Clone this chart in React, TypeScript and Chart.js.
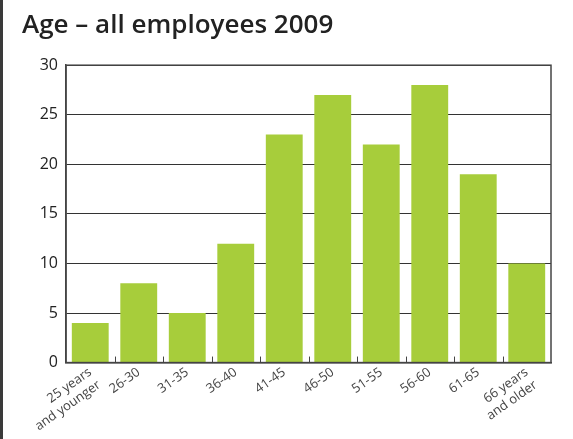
import React, { useEffect, useRef } from "react";
import { Chart, registerables } from "chart.js";

Chart.register(...registerables);

const categories: (string | string[])[] = [
  ["25 years", "and younger"],
  "26-30",
  "31-35",
  "36-40",
  "41-45",
  "46-50",
  "51-55",
  "56-60",
  "61-65",
  ["66 years", "and older"],
];
const employees = [4, 8, 5, 12, 23, 27, 22, 28, 19, 10];
const titleText = "Age – all employees 2009";

const innerTicks = {
  id: "innerTicks",
  afterDatasetsDraw(chart: any) {
    const x = chart.scales.x;
    const ca = chart.chartArea;
    const ctx = chart.ctx;
    const n = chart.data.labels.length;
    ctx.save();
    ctx.strokeStyle = "#444";
    ctx.lineWidth = 1;
    for (let i = 1; i < n; i++) {
      const px = Math.round((x.getPixelForValue(i - 1) + x.getPixelForValue(i)) / 2) + 0.5;
      ctx.beginPath();
      ctx.moveTo(px, ca.bottom);
      ctx.lineTo(px, ca.bottom - 6);
      ctx.stroke();
    }
    ctx.lineWidth = 1.5;
    ctx.strokeStyle = "#444";
    ctx.strokeRect(ca.left, ca.top, ca.right - ca.left, ca.bottom - ca.top);
    ctx.restore();
  },
};

export default function App() {
  const ref = useRef<HTMLCanvasElement>(null);
  useEffect(() => {
    document.body.style.margin = "0";
    const chart = new Chart(ref.current!, {
      type: "bar",
      data: {
        labels: categories,
        datasets: [
          {
            data: employees,
            backgroundColor: "#a7cd3b",
            borderWidth: 0,
            barPercentage: 0.76,
            categoryPercentage: 1,
          },
        ],
      },
      plugins: [innerTicks],
      options: {
        animation: false,
        responsive: false,
        maintainAspectRatio: false,
        layout: { padding: { left: 22, right: 22, top: 5, bottom: 3 } },
        plugins: {
          legend: { display: false },
          tooltip: { enabled: false },
          title: {
            display: true,
            text: titleText,
            align: "start",
            color: "#222",
            font: { family: "Open Sans", size: 26, weight: "600" },
            padding: { top: 5, bottom: 24 },
          },
        },
        scales: {
          x: {
            grid: { display: false, drawTicks: false },
            border: { display: true, color: "#444", width: 1.5 },
            ticks: {
              color: "#444",
              font: { family: "Open Sans", size: 13 },
              maxRotation: 35,
              minRotation: 35,
              padding: 2,
              autoSkip: false,
            },
          },
          y: {
            min: 0,
            max: 30,
            afterFit: (s: any) => {
              s.width = 44;
            },
            ticks: {
              stepSize: 5,
              color: "#222",
              font: { family: "Open Sans", size: 16 },
              padding: 8,
            },
            grid: { color: "#333", lineWidth: 1, drawTicks: false },
            border: { display: true, color: "#444", width: 1.5 },
          },
        },
      },
      });
    return () => chart.destroy();
  }, []);
  return (
    <div style={{ position: "absolute", left: 0, top: 0, width: 573, height: 439, background: "#fff" }}>
      <div style={{ position: "absolute", left: 0, top: 0, width: 3, height: 439, background: "#3a3a3a" }} />
      <canvas ref={ref} width={573} height={439} style={{ position: "absolute", left: 0, top: 0 }} />
    </div>
  );
}
